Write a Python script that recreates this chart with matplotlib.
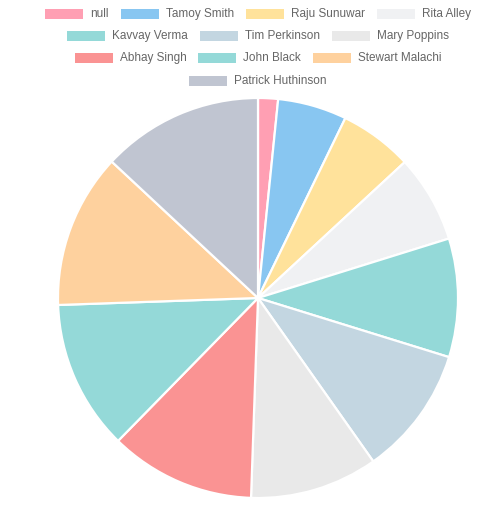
import numpy as np
import matplotlib
matplotlib.use("Agg")
import matplotlib.pyplot as plt
from matplotlib.patches import Rectangle

# data (slice sizes, in degrees of arc)
names = ["null", "Tamoy Smith", "Raju Sunuwar", "Rita Alley",
         "Kavvay Verma", "Tim Perkinson", "Mary Poppins",
         "Abhay Singh", "John Black", "Stewart Malachi", "Patrick Huthinson"]
values = [5.8, 20.1, 21.3, 25.5, 34.5, 37.6, 37.2, 42.4, 43.6, 45.0, 47.0]
colors = ["#ff9fb3", "#88c6f1", "#ffe29b", "#f0f1f3",
          "#94d9d8", "#c3d6e1", "#e9e9e9",
          "#fa9393", "#94d9d8", "#fed19e", "#c0c5d1"]
rows = [[0, 1, 2, 3], [4, 5, 6], [7, 8, 9], [10]]

W, H = 499, 528
fig = plt.figure(figsize=(W / 100, H / 100), dpi=100)

# pie: centre (258, 298) px, radius 200 px
cx, cy, r = 258, 298, 200
ax = fig.add_axes([(cx - r) / W, (H - cy - r) / H, 2 * r / W, 2 * r / H])
ax.pie(values, colors=colors, startangle=90, counterclock=False, radius=1,
       wedgeprops=dict(edgecolor="white", linewidth=1.6, clip_on=False))
ax.set_xlim(-1, 1)
ax.set_ylim(-1, 1)
ax.set_aspect("equal")
ax.axis("off")

# legend, chart.js style: centred rows
fig.canvas.draw()
renderer = fig.canvas.get_renderer()
box_w, box_h, gap, sep = 38, 10, 7, 12
row_y = [14, 36, 58, 81]
for row, ypx in zip(rows, row_y):
    texts = []
    widths = []
    for i in row:
        t = fig.text(0, 0, names[i], fontsize=8.5, family="Liberation Sans",
                     color="#666666", va="center", ha="left")
        wpx = t.get_window_extent(renderer).width
        texts.append(t)
        widths.append(box_w + gap + wpx)
    total = sum(widths) + sep * (len(row) - 1)
    x = cx - total / 2
    for i, t, wd in zip(row, texts, widths):
        fig.add_artist(Rectangle((x / W, (H - ypx - box_h / 2) / H), box_w / W, box_h / H,
                                 transform=fig.transFigure, facecolor=colors[i],
                                 edgecolor="none"))
        t.set_position(((x + box_w + gap) / W, (H - ypx) / H))
        x += wd + sep

fig.savefig("out.png", dpi=100)
